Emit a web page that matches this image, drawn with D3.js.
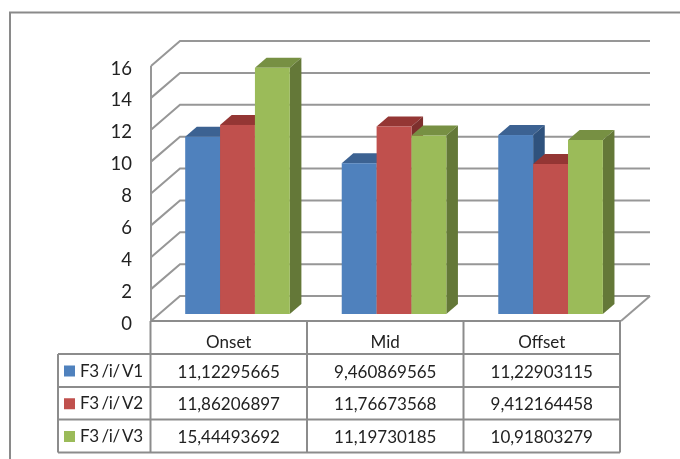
<!DOCTYPE html>
<html><head><meta charset="utf-8">
<script src="https://cdn.jsdelivr.net/npm/d3@7"></script>
<style>html,body{margin:0;padding:0;background:#fff;overflow:hidden}svg{display:block;filter:blur(0.35px)}text{font-family:Lato,"Open Sans",sans-serif;fill:#222}</style>
</head><body><svg id="c" width="680" height="459"></svg>
<script>
const categories = ["Onset","Mid","Offset"];
const seriesNames = ["F3 /i/ V1","F3 /i/ V2","F3 /i/ V3"];
const v1 = [11.12295665, 9.460869565, 11.22903115];
const v2 = [11.86206897, 11.76673568, 9.412164458];
const v3 = [15.44493692, 11.19730185, 10.91803279];
const v1Labels = ["11,12295665","9,460869565","11,22903115"];
const v2Labels = ["11,86206897","11,76673568","9,412164458"];
const v3Labels = ["15,44493692","11,19730185","10,91803279"];
const yTicks = [0,2,4,6,8,10,12,14,16];
const frontColors = ["#4f81bd","#c0504d","#9bbb59"];
const topColors = ["#3c6292","#943634","#779043"];
const sideColors = ["#2f527d","#7d2f2d","#647838"];

const series = [v1,v2,v3], labels = [v1Labels,v2Labels,v3Labels];
const svg = d3.select("#c");
const grid = "#979797", tableLine = "#8c8c8c";

// outer frame
svg.append("path").attr("d","M10,459V12.5H680").attr("fill","none").attr("stroke","#8a8a8a").attr("stroke-width",2);

// walls
const yFront = d3.scaleLinear().domain([0,16]).range([321,66]);
const dx = 29, dy = -25, xL = 151, xR = 621;
const g = svg.append("g").attr("fill","none").attr("stroke",grid).attr("stroke-width",2);
yTicks.forEach(t=>{
  const y = yFront(t);
  g.append("path").attr("d",`M${xL},${y}L${xL+dx},${y+dy}H${xR+dx}`);
});
g.append("path").attr("d",`M${xL},${yFront(16)}V${yFront(0)}`);
g.append("path").attr("d",`M${xR},${yFront(0)}L${xR+dx},${yFront(0)+dy}`);

// bars
const yBar = d3.scaleLinear().domain([0,16]).range([314,59]);
const xCat = d3.scaleBand().domain(categories).range([159.2,628.8]);
const xSer = d3.scaleBand().domain(seriesNames).range([26,130.6]);
const bdx = 11.6, bdy = -10;
categories.forEach((c,i)=>{
  const gc = svg.append("g").attr("transform",`translate(${xCat(c)},0)`);
  seriesNames.forEach((s,k)=>{
    const x = xSer(s), w = xSer.bandwidth(), y = yBar(series[k][i]), y0 = yBar(0);
    gc.append("path").attr("fill",topColors[k])
      .attr("d",`M${x},${y}l${bdx},${bdy}h${w}l${-bdx},${-bdy}z`);
    gc.append("path").attr("fill",sideColors[k])
      .attr("d",`M${x+w},${y}l${bdx},${bdy}V${y0+bdy}l${-bdx},${-bdy}z`);
    gc.append("rect").attr("x",x).attr("y",y).attr("width",w).attr("height",y0-y).attr("fill",frontColors[k]);
  });
});

// y labels
svg.append("g").selectAll("text").data(yTicks).join("text")
  .attr("x",132).attr("y",d=>yFront(d)+8.5).attr("text-anchor","end")
  .attr("font-size",18.5).text(d=>d);

// data table
const colX = d3.scalePoint().domain(d3.range(4)).range([150.5,620]);
const rowY = [321,354,387,419.5,452.5];
const t = svg.append("g").attr("stroke",tableLine).attr("stroke-width",2).attr("fill","none");
t.append("path").attr("d",`M${xL},${rowY[0]}H${xR}`);
colX.domain().forEach(i=>t.append("path").attr("d",`M${colX(i)},${rowY[0]}V${rowY[4]}`));
rowY.slice(1).forEach(y=>t.append("path").attr("d",`M58,${y}H620`));
t.append("path").attr("d",`M58,${rowY[1]}V${rowY[4]}`);

const fs = 17;
categories.forEach((c,i)=>{
  svg.append("text").attr("x",(colX(i)+colX(i+1))/2).attr("y",rowY[0]+27).attr("text-anchor","middle").attr("font-size",fs).text(c);
});
seriesNames.forEach((s,k)=>{
  const yc = (rowY[k+1]+rowY[k+2])/2;
  svg.append("rect").attr("x",64).attr("y",yc-5).attr("width",11).attr("height",11).attr("fill",frontColors[k]);
  svg.append("text").attr("x",80).attr("y",yc+6).attr("font-size",fs).attr("word-spacing","-1.5px")
    .attr("textLength",63).attr("lengthAdjust","spacing").text(s);
  labels[k].forEach((l,i)=>{
    svg.append("text").attr("x",(colX(i)+colX(i+1))/2).attr("y",yc+7).attr("text-anchor","middle").attr("font-size",fs).text(l);
  });
});
</script></body></html>
